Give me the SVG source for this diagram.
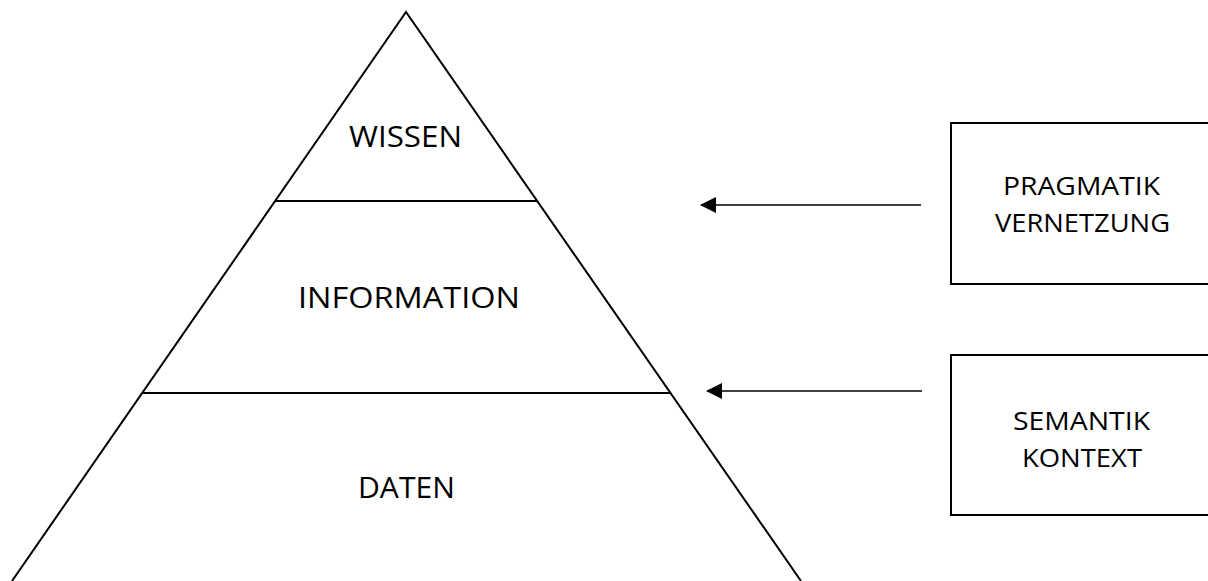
<svg xmlns="http://www.w3.org/2000/svg" width="1208" height="581" viewBox="0 0 1208 581">
<defs>
<style>
.shape{fill:none;stroke:#000;stroke-width:2}
.conn{fill:none;stroke:#000;stroke-width:1.3}
.lbl{font-family:"Open Sans","Liberation Sans",sans-serif;fill:#000;text-anchor:middle}
.big{font-size:29.5px}
.small{font-size:26px}
</style>
<marker id="arr" viewBox="0 0 16 16" refX="15" refY="8" markerWidth="16" markerHeight="16" markerUnits="userSpaceOnUse" orient="auto">
<path d="M0,0 L16,8 L0,16 Z" fill="#000"/>
</marker>
</defs>
<rect width="1208" height="581" fill="#fff"/>
<g id="pyramid">
<path class="shape" d="M12,581 L406,12 L801,581"/>
<line class="shape" x1="275" y1="201" x2="538" y2="201"/>
<line class="shape" x1="142" y1="393" x2="670" y2="393"/>
</g>
<g id="wissen"><text class="lbl big" x="405.5" y="147" textLength="113" lengthAdjust="spacingAndGlyphs">WISSEN</text></g>
<g id="information"><text class="lbl big" x="409" y="308" textLength="222" lengthAdjust="spacingAndGlyphs">INFORMATION</text></g>
<g id="daten"><text class="lbl big" x="406.5" y="498" textLength="97" lengthAdjust="spacingAndGlyphs">DATEN</text></g>
<g id="pragmatik">
<rect class="shape" x="951" y="123" width="262" height="161"/>
<text class="lbl small" x="1081.5" y="195" textLength="157" lengthAdjust="spacingAndGlyphs">PRAGMATIK</text>
<text class="lbl small" x="1082.5" y="232" textLength="175" lengthAdjust="spacingAndGlyphs">VERNETZUNG</text>
</g>
<g id="semantik">
<rect class="shape" x="951" y="355" width="262" height="160"/>
<text class="lbl small" x="1081.5" y="430" textLength="137" lengthAdjust="spacingAndGlyphs">SEMANTIK</text>
<text class="lbl small" x="1082" y="467" textLength="120" lengthAdjust="spacingAndGlyphs">KONTEXT</text>
</g>
<g id="connectors">
<line class="conn" x1="921" y1="205" x2="701" y2="205" marker-end="url(#arr)"/>
<line class="conn" x1="922" y1="391" x2="707" y2="391" marker-end="url(#arr)"/>
</g>
</svg>
